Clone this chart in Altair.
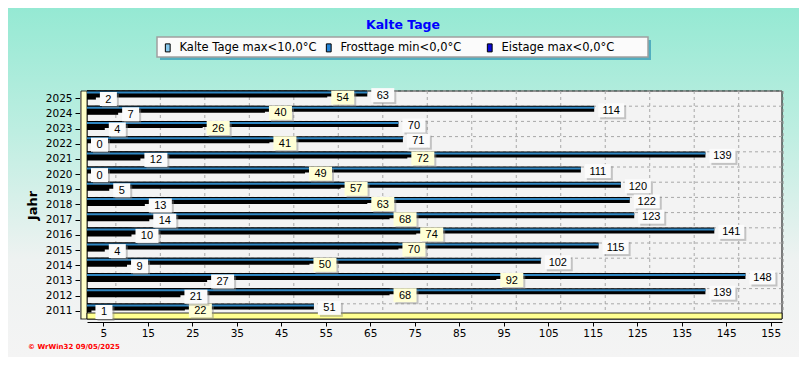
import altair as alt
import pandas as pd

# ---------------- data ----------------
years = [2025, 2024, 2023, 2022, 2021, 2020, 2019, 2018, 2017, 2016, 2015, 2014, 2013, 2012, 2011]
kalte = [63, 114, 70, 71, 139, 111, 120, 122, 123, 141, 115, 102, 148, 139, 51]
frost = [54, 40, 26, 41, 72, 49, 57, 63, 68, 74, 70, 50, 92, 68, 22]
eis = [2, 7, 4, 0, 12, 0, 5, 13, 14, 10, 4, 9, 27, 21, 1]
series_names = ["Kalte Tage max<10,0°C", "Frosttage min<0,0°C", "Eistage max<0,0°C"]
legend_colors = ["#86c8ee", "#2384d8", "#0a0ad8"]
x_ticks = [5, 15, 25, 35, 45, 55, 65, 75, 85, 95, 105, 115, 125, 135, 145, 155]
chart_title = "Kalte Tage"
credit = "© WrWin32  09/05/2025"

year_labels = [str(y) for y in years]
rows = []
for i, yr in enumerate(year_labels):
    for name, vals in zip(series_names, (kalte, frost, eis)):
        rows.append({"year": yr, "series": name, "value": vals[i]})
df = pd.DataFrame(rows)
one = pd.DataFrame({"a": [0]})
tick_df = pd.DataFrame({"value": x_ticks})
year_df = pd.DataFrame({"year": year_labels})

# ---------------- layout ----------------
W, H = 695, 228
PX_PER_UNIT = 4.449
FONT = "DejaVu Sans"

x_axis = alt.Axis(values=x_ticks, tickOffset=-5.9, grid=False, offset=3, tickSize=4,
                  labelPadding=2, labelFont=FONT, labelFontSize=10.5, labelColor="black",
                  domainColor="black", tickColor="black", title=None, zindex=1,
                  labelOverlap=False, labelFlush=False)
y_axis = alt.Axis(offset=7, tickSize=5, labelPadding=3, labelFont=FONT, labelFontSize=10.5,
                  labelColor="black", domainColor="#707070", tickColor="black",
                  title="Jahr", titleFont=FONT, titleFontSize=13, titleFontWeight="bold",
                  titleColor="black", titlePadding=6, zindex=1, grid=False)

X = alt.X("value:Q", scale=alt.Scale(domain=[0, W / PX_PER_UNIT], nice=False), axis=x_axis)
Y = alt.Y("year:N", scale=alt.Scale(domain=year_labels, paddingInner=0, paddingOuter=0),
          axis=y_axis, sort=None)

grad = alt.LinearGradient(
    gradient="linear", x1=0, x2=0, y1=0, y2=1,
    stops=[alt.GradientStop(color="#95e9d3", offset=0),
           alt.GradientStop(color="#bdeee1", offset=0.35),
           alt.GradientStop(color="#eef2f1", offset=0.72),
           alt.GradientStop(color="#f4f4f4", offset=1)])

layers = []
# background gradient over the whole svg
layers.append(alt.Chart(one).mark_rect(fill=grad).encode(
    x=alt.value(-79), x2=alt.value(712), y=alt.value(-83), y2=alt.value(266)))
# legend frame with shadow
layers.append(alt.Chart(one).mark_rect(fill="#52aebf").encode(
    x=alt.value(73), x2=alt.value(564), y=alt.value(-51), y2=alt.value(-31)))
layers.append(alt.Chart(one).mark_rect(fill="#fbfbfb", stroke="#a0a0a0", strokeWidth=1.5).encode(
    x=alt.value(70), x2=alt.value(561), y=alt.value(-54), y2=alt.value(-34)))
# back wall
layers.append(alt.Chart(one).mark_rect(fill="#f3f3f3", stroke="black", strokeWidth=1).encode(
    x=alt.value(0), x2=alt.value(W), y=alt.value(0), y2=alt.value(H)))
# left wall
layers.append(alt.Chart(one).mark_rect(fill="#ffffc8", stroke="black", strokeWidth=0.8).encode(
    x=alt.value(-6), x2=alt.value(0), y=alt.value(0), y2=alt.value(H)))
# floor
layers.append(alt.Chart(one).mark_rect(fill="#ffff90", stroke="black", strokeWidth=0.8).encode(
    x=alt.value(0), x2=alt.value(W), y=alt.value(H - 6), y2=alt.value(H)))
# vertical grid lines
layers.append(alt.Chart(tick_df).mark_rule(color="#a8a8a8", strokeDash=[3, 3], xOffset=6.6).encode(
    x=X, y=alt.value(0), y2=alt.value(H - 6)))
# horizontal grid lines
layers.append(alt.Chart(year_df).mark_rule(color="#a8a8a8", strokeDash=[3, 3], yOffset=-7.6).encode(
    y=Y, x=alt.value(8), x2=alt.value(W)))

base = alt.Chart(df)
f_k = alt.datum.series == series_names[0]
f_f = alt.datum.series == series_names[1]
f_e = alt.datum.series == series_names[2]

layers.append(base.transform_filter(f_e).mark_bar(color="black", size=9, yOffset=-3.5).encode(x=X, y=Y))
layers.append(base.transform_filter(f_f).mark_bar(color="black", size=7, yOffset=-4.5).encode(x=X, y=Y))
layers.append(base.transform_filter(f_k).mark_bar(color="black", size=6, yOffset=-5).encode(x=X, y=Y))
layers.append(base.transform_filter(f_k).mark_bar(color="#2f86c2", size=2, yOffset=-6).encode(x=X, y=Y))

# value labels with boxes
label_specs = [(series_names[0], "#fbfbfb", -3.5),
               (series_names[1], "#ffffd6", -1.0),
               (series_names[2], "#fbfbfb", 0.5)]
digit_specs = [(0, 10, 17), (10, 100, 23), (100, 1000, 26)]
for name, fill, yoff in label_specs:
    for lo, hi, w in digit_specs:
        sub = base.transform_filter(
            (alt.datum.series == name) & (alt.datum.value >= lo) & (alt.datum.value < hi))
        layers.append(sub.mark_bar(color="#8a8a8a", opacity=0.45, size=14,
                                   xOffset=4 + 2, x2Offset=4 + w + 2, yOffset=yoff + 2).encode(
            x=X, x2="value:Q", y=Y))
        layers.append(sub.mark_bar(color=fill, size=14, xOffset=4, x2Offset=4 + w,
                                   yOffset=yoff).encode(x=X, x2="value:Q", y=Y))
        layers.append(sub.mark_text(align="center", baseline="middle", dx=4 + w / 2, dy=yoff + 0.5,
                                    font="Liberation Sans", fontSize=11, color="black").encode(
            x=X, y=Y, text="value:Q"))

# legend carrier
layers.append(base.mark_point(shape="square", filled=True, opacity=0, size=1).encode(
    x=X, y=Y,
    color=alt.Color("series:N", scale=alt.Scale(domain=series_names, range=legend_colors),
                    legend=alt.Legend(orient="none", legendX=70, legendY=-54, direction="horizontal",
                                      columns=3, gridAlign="all", columnPadding=6, title=None,
                                      symbolType="M-0.6,-1H0.6V1H-0.6Z", symbolSize=64,
                                      symbolOpacity=1, symbolStrokeColor="black", symbolStrokeWidth=1,
                                      labelFont=FONT, labelFontSize=11.5, labelColor="black",
                                      labelOffset=6, labelLimit=300, padding=5))))

# title & credit
layers.append(alt.Chart(one).mark_text(text=chart_title, font=FONT, fontSize=12.5, fontWeight="bold",
                                       color="#0000ff", align="center", baseline="middle").encode(
    x=alt.value(316), y=alt.value(-66)))
layers.append(alt.Chart(one).mark_text(text=credit, font=FONT, fontSize=7, fontWeight="bold",
                                       color="#ff0000", align="left", baseline="middle").encode(
    x=alt.value(-59), y=alt.value(256)))

chart = alt.layer(*layers).properties(
    width=W, height=H, autosize="none",
    padding={"left": 79, "top": 83, "right": 17, "bottom": 38},
).configure_view(stroke=None).configure(background="#f4f4f4")

chart.save("out.html", embed_options={"renderer": "svg", "actions": False})
